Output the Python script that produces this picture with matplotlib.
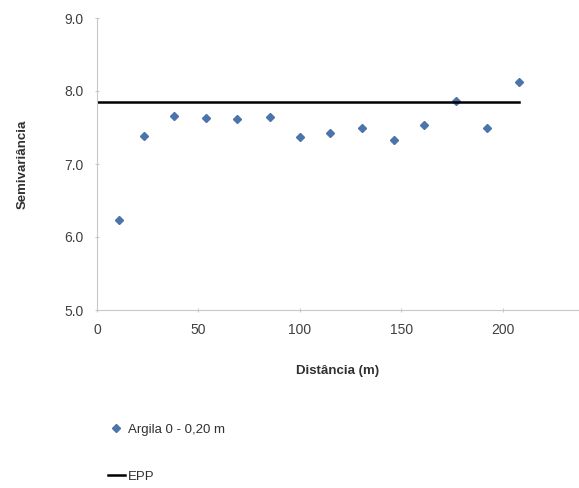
import matplotlib
matplotlib.use('Agg')
from matplotlib import pyplot as plt

plt.rcParams['font.family'] = ['Liberation Sans', 'DejaVu Sans']

# semivariogram data
distance = [10.8, 23.2, 37.8, 53.9, 69.0, 85.2, 100.0, 114.8, 130.5, 146.1, 161.2, 176.8, 192.0, 207.7]
semivar = [6.23, 7.38, 7.66, 7.63, 7.62, 7.65, 7.37, 7.42, 7.49, 7.33, 7.53, 7.86, 7.50, 8.12]
epp_x = [0, 208]
epp_y = [7.85, 7.85]
xticks = [0, 50, 100, 150, 200]
yticks = [5.0, 6.0, 7.0, 8.0, 9.0]

fig = plt.figure(figsize=(5.79, 4.88), dpi=100)
ax = fig.add_axes([97 / 579, 1 - 310 / 488, (578 - 97) / 579, (310 - 18) / 488])

pts, = ax.plot(distance, semivar, linestyle='none', marker='D', markersize=4.5,
               color='#4a74aa', label='Argila 0 - 0,20 m')
line, = ax.plot(epp_x, epp_y, color='black', linewidth=1.8, label='EPP')

ax.set_xlim(0, 237)
ax.set_ylim(5.0, 9.0)
ax.set_xticks(xticks)
ax.set_yticks(yticks)
ax.set_yticklabels(['{:.1f}'.format(v) for v in yticks])

for side in ['top', 'right']:
    ax.spines[side].set_visible(False)
for side in ['left', 'bottom']:
    ax.spines[side].set_color('#c8c8c8')
ax.tick_params(colors='#c8c8c8', labelcolor='#404040', labelsize=10, length=3, direction='inout')
ax.tick_params(axis='x', pad=8)
ax.tick_params(axis='y', pad=8)

ax.set_xlabel('Distância (m)', fontsize=9.5, fontweight='bold', color='#303030', labelpad=20)
ax.set_ylabel('Semivariância', fontsize=9.5, fontweight='bold', color='#303030', labelpad=26)

fig.legend(handles=[pts, line], loc='upper left', bbox_to_anchor=(96 / 579, 1 - 412 / 488),
           frameon=False, fontsize=9.5, labelspacing=2.6, handlelength=1.3, handletextpad=0.2,
           labelcolor='#303030')

fig.savefig('out.png', dpi=100)
